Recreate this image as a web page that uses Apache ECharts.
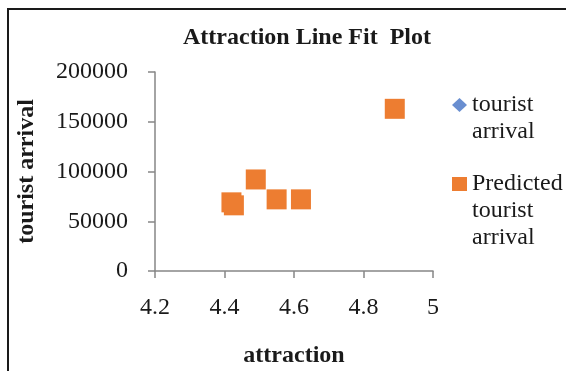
<!DOCTYPE html>
<html>
<head>
<meta charset="utf-8">
<script src="https://cdn.jsdelivr.net/npm/echarts@6/dist/echarts.min.js"></script>
<style>
html,body{margin:0;padding:0;background:#fff;}
#chart{width:566px;height:371px;}
</style>
</head>
<body>
<div id="chart"></div>
<script>
// Data
const attraction = [4.42, 4.427, 4.49, 4.55, 4.62, 4.89];
const touristArrival = [69000, 66000, 92000, 72000, 72000, 163000];
const predictedArrival = [69000, 66000, 92000, 72000, 72000, 163000];
const xTicks = [4.2, 4.4, 4.6, 4.8, 5];
const yTicks = [0, 50000, 100000, 150000, 200000];

const seriesNames = ['tourist arrival', 'Predicted tourist arrival'];
const FONT = 'Liberation Serif';
const TXT = '#1a1a1a';
const AXIS = '#868686';
const spacer = {fontFamily: FONT, fontSize: 24, lineHeight: 27, color: 'transparent'};

const chart = echarts.init(document.getElementById('chart'), null, {renderer: 'canvas'});
chart.setOption({
  animation: false,
  backgroundColor: '#fff',
  title: {
    text: 'Attraction Line Fit  Plot',
    left: 307,
    top: 26,
    padding: 0,
    textAlign: 'center',
    textStyle: {fontFamily: FONT, fontWeight: 'bold', fontSize: 24, color: TXT}
  },
  graphic: [{
    type: 'rect', silent: true, z: -1,
    shape: {x: 8, y: 9, width: 620, height: 420},
    style: {fill: 'none', stroke: '#1a1a1a', lineWidth: 2}
  }],
  legend: [{
    data: [{name: seriesNames[0], icon: 'diamond'}],
    left: 452, top: 64.5, padding: 0,
    itemWidth: 15, itemHeight: 14, itemGap: 0,
    selectedMode: false,
    formatter: () => '{h|\u00a0}\ntourist\narrival',
    textStyle: {fontFamily: FONT, fontSize: 24, color: TXT, lineHeight: 27, rich: {h: spacer}}
  }, {
    data: [{name: seriesNames[1], icon: 'rect'}],
    left: 452, top: 116.5, padding: 0,
    itemWidth: 15, itemHeight: 14, itemGap: 0,
    selectedMode: false,
    formatter: () => '{h|\u00a0}\n{h|\u00a0}\nPredicted\ntourist\narrival',
    textStyle: {fontFamily: FONT, fontSize: 24, color: TXT, lineHeight: 27, rich: {h: spacer}}
  }],
  grid: {left: 155, right: 133, top: 72, bottom: 100, containLabel: false, outerBoundsMode: 'none'},
  xAxis: {
    type: 'value',
    min: xTicks[0], max: xTicks[xTicks.length - 1], interval: 0.2,
    name: 'attraction', nameLocation: 'middle', nameGap: 73,
    nameTextStyle: {fontFamily: FONT, fontWeight: 'bold', fontSize: 24, color: TXT},
    splitLine: {show: false},
    axisLine: {show: true, onZero: false, lineStyle: {color: AXIS, width: 1.5}},
    axisTick: {show: true, length: 7, lineStyle: {color: AXIS, width: 1.5}},
    axisLabel: {fontFamily: FONT, fontSize: 24, color: TXT, margin: 25,
      formatter: v => String(+v.toFixed(1))}
  },
  yAxis: {
    type: 'value',
    min: yTicks[0], max: yTicks[yTicks.length - 1], interval: 50000,
    name: 'tourist arrival', nameLocation: 'middle', nameGap: 116,
    nameTextStyle: {fontFamily: FONT, fontWeight: 'bold', fontSize: 24, color: TXT},
    splitLine: {show: false},
    axisLine: {show: true, onZero: false, lineStyle: {color: AXIS, width: 1.5}},
    axisTick: {show: true, length: 7, lineStyle: {color: AXIS, width: 1.5}},
    axisLabel: {fontFamily: FONT, fontSize: 24, color: TXT, margin: 27,
      formatter: v => String(Math.round(v))}
  },
  series: [{
    name: seriesNames[0],
    type: 'scatter',
    symbol: 'diamond',
    symbolSize: 10,
    itemStyle: {color: '#4472C4'},
    z: 1,
    data: attraction.map((x, i) => [x, touristArrival[i]])
  }, {
    name: seriesNames[1],
    type: 'scatter',
    symbol: 'rect',
    symbolSize: 20,
    itemStyle: {color: '#ED7D31', opacity: 1},
    z: 2,
    data: attraction.map((x, i) => [x, predictedArrival[i]])
  }]
});
</script>
</body>
</html>
